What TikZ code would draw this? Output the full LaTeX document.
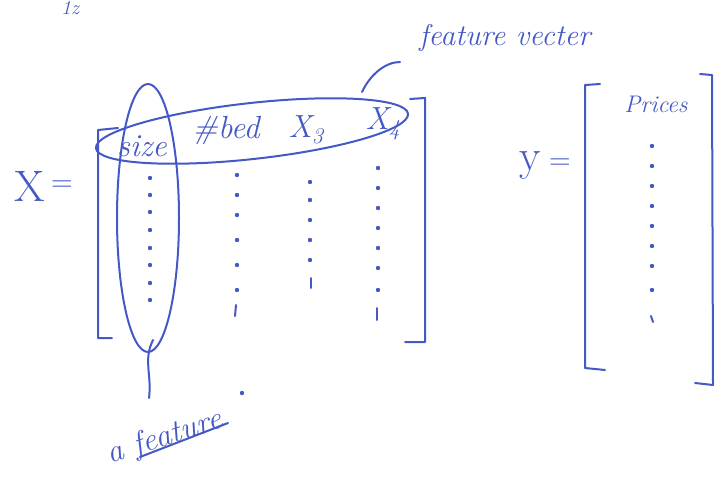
\documentclass[tikz,border=0pt]{standalone}
\usepackage{fontspec}
\definecolor{ink}{RGB}{68,88,198}
\begin{document}
\begin{tikzpicture}[x=1pt,y=-1pt,
  pen/.style={draw=ink,line width=2pt,line cap=round,line join=round},
  hand/.style={text=ink,font=\itshape,inner sep=0pt},
  dot/.style={circle,fill=ink,inner sep=0pt,minimum size=4.4pt}]
\useasboundingbox (0,0) rectangle (717,487);
% top fragment
\node[hand,font=\itshape\fontsize{20}{20}\selectfont,anchor=north] (frag) at (70,1) {1z};
% X =
\node[hand,font=\fontsize{44}{44}\selectfont] (X) at (30,186) {X};
\node[hand,font=\fontsize{30}{30}\selectfont] (eq1) at (62,186) {=};
% left matrix brackets
\coordinate (lbt) at (98,130); \coordinate (lbb) at (98,338);
\draw[pen] (118,128) -- (lbt) -- (lbb) -- (112,338);
\coordinate (rbt) at (425,98); \coordinate (rbb) at (425,342);
\draw[pen] (410,99) -- (rbt) -- (rbb) -- (405,342);
% header row
\node[hand,font=\itshape\fontsize{32}{32}\selectfont] (size) at (142,146) {size};
\node[hand,font=\itshape\fontsize{32}{32}\selectfont] (bed) at (226,130) {\#bed};
\node[hand,font=\itshape\fontsize{32}{32}\selectfont] (x3) at (306,130) {X\textsubscript{3}};
\node[hand,font=\itshape\fontsize{32}{32}\selectfont] (x4) at (383,124) {X\textsubscript{4}};
% dots columns
\foreach \yy in {178,195,212,230,248,265,283,300} \node[dot] at (150,\yy) {};
\foreach \yy in {175,195,215,240,265,290} \node[dot] at (237,\yy) {};
\draw[pen] (236,305) -- (235,316);
\foreach \yy in {182,200,220,240,260} \node[dot] at (310,\yy) {};
\draw[pen] (311,278) -- (311,288);
\foreach \yy in {168,188,208,228,248,268,290} \node[dot] at (378,\yy) {};
\draw[pen] (377,308) -- (377,320);
% ellipses
\draw[pen] (148,218) ellipse[x radius=31,y radius=134];
\draw[pen,rotate around={6.3:(252,131)}] (252,131) ellipse[x radius=157,y radius=28];
% feature vector label
\node[hand,font=\itshape\fontsize{30}{30}\selectfont] (fv) at (505,38) {feature vecter};
\coordinate (fvs) at (400,62);
\coordinate (fve) at (362,92);
\draw[pen] (fvs) .. controls (385,62) and (370,75) .. (fve);
% a feature label
\node[hand,font=\itshape\fontsize{32}{32}\selectfont,rotate=18] (af) at (165,438) {a feature};
\coordinate (ul1) at (140,457);
\coordinate (ul2) at (228,423);
\draw[pen] (ul1) -- (ul2);
\coordinate (afs) at (153,340);
\coordinate (afe) at (149,398);
\draw[pen] (afs) .. controls (143,360) and (152,375) .. (afe);
\node[dot] (stray) at (242,393) {};
% y =
\node[hand,font=\fontsize{44}{44}\selectfont] (Y) at (530,166) {y};
\node[hand,font=\fontsize{30}{30}\selectfont] (eq2) at (560,164) {=};
% y brackets
\draw[pen] (600,84) -- (585,85) -- (585,368) -- (605,370);
\draw[pen] (700,74) -- (712,75) -- (713,385) -- (695,383);
\node[hand,font=\itshape\fontsize{24}{24}\selectfont] (prices) at (656,104) {Prices};
\foreach \yy in {146,166,186,206,226,246,266,290} \node[dot] at (652,\yy) {};
\draw[pen] (651,316) -- (653,322);
\end{tikzpicture}
\end{document}
